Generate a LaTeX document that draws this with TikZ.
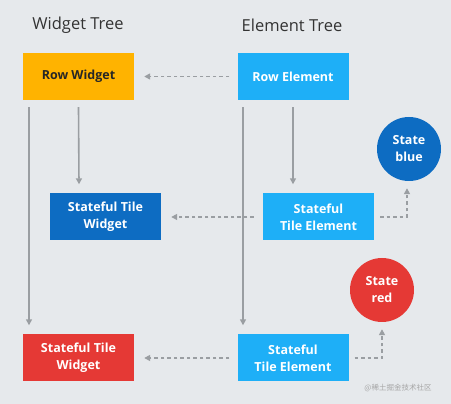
\documentclass[tikz,border=0pt]{standalone}
\usepackage{fontspec}
\setmainfont{Open Sans}
\newfontfamily\cjk{Noto Sans CJK SC}
\usetikzlibrary{arrows.meta}
\definecolor{bgc}{HTML}{E6E9EC}
\definecolor{orangec}{HTML}{FFB300}
\definecolor{lightb}{HTML}{1EAFF7}
\definecolor{darkb}{HTML}{0D6CC2}
\definecolor{redc}{HTML}{E53935}
\definecolor{linec}{HTML}{9A9EA2}
\begin{document}
\begin{tikzpicture}[x=1pt,y=-1pt,
  box/.style={minimum width=111pt,minimum height=47pt,inner sep=0pt,align=center,font=\fontsize{12.5}{17}\selectfont\bfseries,text=white},
  circ/.style={circle,minimum size=64pt,inner sep=0pt,align=center,font=\fontsize{12.5}{17}\selectfont\bfseries,text=white},
  title/.style={font=\fontsize{16.5}{19}\selectfont,text=black!80},
  solidarrow/.style={draw=linec,line width=1.6pt,-{Triangle[length=6pt,width=6pt]}},
  dasharrow/.style={draw=linec,line width=1.6pt,dash pattern=on 3.5pt off 3pt,-{Triangle[length=6pt,width=6pt]}}]
\fill[bgc] (0,0) rectangle (451,404);
\useasboundingbox (0,0) rectangle (451,404);
\node[title] (wt) at (78,25) {Widget Tree};
\node[title] (et) at (292,25) {Element Tree};
\node[box,fill=orangec,text=black!85] (rw) at (78.5,76.5) {Row Widget};
\node[box,fill=lightb] (re) at (293,76.5) {Row Element};
\node[box,fill=darkb] (sw1) at (105.5,217) {Stateful Tile\\Widget};
\node[box,fill=lightb] (se1) at (318.5,217) {Stateful\\Tile Element};
\node[box,fill=redc] (sw2) at (78.5,358) {Stateful Tile\\Widget};
\node[box,fill=lightb] (se2) at (293,358) {Stateful\\Tile Element};
\node[circ,fill=darkb] (sb) at (409,149) {State\\blue};
\node[circ,fill=redc] (sr) at (382,290) {State\\red};
% solid vertical arrows
\draw[solidarrow] ([xshift=-49.5pt,yshift=-7pt]rw.south) -- ([xshift=-49.5pt,yshift=9pt]sw2.north);
\draw[solidarrow] ([yshift=-7pt]rw.south) -- ([xshift=-26.5pt,yshift=9pt]sw1.north);
\draw[solidarrow] ([xshift=-50pt,yshift=-7pt]re.south) -- ([xshift=-50pt,yshift=9pt]se2.north);
\draw[solidarrow] ([yshift=-7pt]re.south) -- ([xshift=-25.5pt,yshift=9pt]se1.north);
% dashed arrows
\draw[dasharrow] ([xshift=-8pt]re.west) -- ([xshift=10pt]rw.east);
\draw[dasharrow] ([xshift=-9pt]se1.west) -- ([xshift=10pt]sw1.east);
\draw[dasharrow] ([xshift=-8pt]se2.west) -- ([xshift=10pt]sw2.east);
\coordinate (c1) at ([xshift=-2pt]sb.south |- se1.east);
\draw[dasharrow] ([xshift=6pt]se1.east) -- (c1) -- ([yshift=-7pt]c1 |- sb.south);
\coordinate (c2) at (sr.south |- se2.east);
\draw[dasharrow] ([xshift=6pt]se2.east) -- (c2) -- ([yshift=-7pt]sr.south);
\node[font=\cjk\fontsize{7.5}{9}\selectfont,text=black!35] (wm) at (398,388) {@稀土掘金技术社区};
\end{tikzpicture}
\end{document}
